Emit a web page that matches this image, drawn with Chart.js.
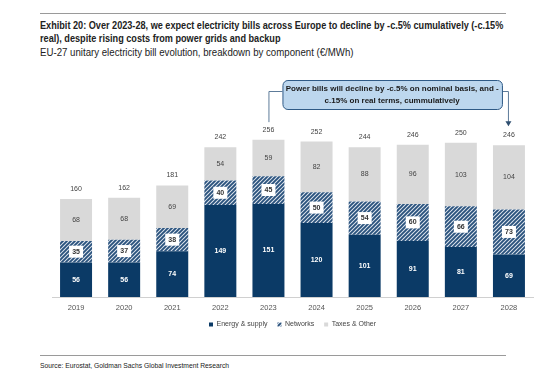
<!DOCTYPE html>
<html>
<head>
<meta charset="utf-8">
<script src="https://cdn.jsdelivr.net/npm/chart.js@4.4.0/dist/chart.umd.min.js"></script>
<style>
  body { margin: 0; background: #fff; width: 560px; height: 391px; position: relative; overflow: hidden; font-family: "Liberation Sans", sans-serif; }
  .rule { position: absolute; left: 40px; width: 466px; border-top: 1px solid #9a9a9a; }
  #title { position: absolute; left: 40px; top: 19px; width: 600px; font-weight: bold; font-size: 11px; line-height: 13px; color: #222; transform: scaleX(0.83); transform-origin: 0 0; white-space: nowrap; }
  #sub { position: absolute; left: 40px; top: 46px; font-size: 10.5px; color: #222; white-space: nowrap; transform: scaleX(0.92); transform-origin: 0 0; }
  #source { position: absolute; left: 40px; top: 361px; font-size: 7.5px; color: #222; transform: scaleX(0.9); transform-origin: 0 0; white-space: nowrap; }
  #wrap { position: absolute; left: 0; top: 0; width: 560px; height: 338px; }
</style>
</head>
<body>
<div class="rule" style="top:13px"></div>
<div id="title">Exhibit 20: Over 2023-28, we expect electricity bills across Europe to decline by -c.5% cumulatively (-c.15%<br>real), despite rising costs from power grids and backup</div>
<div id="sub">EU-27 unitary electricity bill evolution, breakdown by component (€/MWh)</div>
<div id="wrap"><canvas id="chart"></canvas></div>
<div class="rule" style="top:355px"></div>
<div id="source">Source: Eurostat, Goldman Sachs Global Investment Research</div>
<script>
var years = ['2019', '2020', '2021', '2022', '2023', '2024', '2025', '2026', '2027', '2028'];
var energy = [56, 56, 74, 149, 151, 120, 101, 91, 81, 69];
var networks = [35, 37, 38, 40, 45, 50, 54, 60, 66, 73];
var taxes = [68, 68, 69, 54, 59, 82, 88, 96, 103, 104];
var totals = [160, 162, 181, 242, 256, 252, 244, 246, 250, 246];
var noteLines = ['Power bills will decline by -c.5% on nominal basis, and -', 'c.15% on real terms, cummulatively'];

var navy = '#0b3a66';
var grey = '#d9d9d9';

// hatched fill for networks
function makeHatch() {
    var c = document.createElement('canvas');
    c.width = 4; c.height = 4;
    var g = c.getContext('2d');
    g.fillStyle = '#dfe6ee';
    g.fillRect(0, 0, 4, 4);
    g.strokeStyle = '#2a527d';
    g.lineWidth = 1.9;
    g.beginPath();
    g.moveTo(0, 4); g.lineTo(4, 0);
    g.moveTo(-1, 1); g.lineTo(1, -1);
    g.moveTo(3, 5); g.lineTo(5, 3);
    g.stroke();
    return g.createPattern(c, 'repeat');
}
var hatch = makeHatch();

var labelFont = '"Liberation Sans", sans-serif';

var labelPlugin = {
    id: 'labels',
    afterDatasetsDraw: function(chart) {
        var ctx = chart.ctx;
        ctx.save();
        ctx.textAlign = 'center';
        ctx.textBaseline = 'middle';
        chart.data.datasets.forEach(function(ds, di) {
            var meta = chart.getDatasetMeta(di);
            meta.data.forEach(function(bar, i) {
                var cy = (bar.y + bar.base) / 2;
                var txt = String(ds.data[i]);
                if (di === 0) {
                    ctx.font = 'bold 7px ' + labelFont;
                    ctx.fillStyle = '#ffffff';
                    ctx.fillText(txt, bar.x, cy);
                } else if (di === 1) {
                    ctx.fillStyle = '#ffffff';
                    ctx.fillRect(bar.x - 7, cy - 6, 14, 12);
                    ctx.font = 'bold 7px ' + labelFont;
                    ctx.fillStyle = '#333333';
                    ctx.fillText(txt, bar.x, cy);
                } else {
                    ctx.font = '7px ' + labelFont;
                    ctx.fillStyle = '#444444';
                    ctx.fillText(txt, bar.x, cy);
                    ctx.fillText(String(totals[i]), bar.x, bar.y - 10);
                }
            });
        });
        ctx.restore();
    }
};

var notePlugin = {
    id: 'note',
    afterDraw: function(chart) {
        var ctx = chart.ctx;
        var xs = chart.scales.x;
        var ys = chart.scales.y;
        var x23 = xs.getPixelForValue(4);
        var x28 = xs.getPixelForValue(9);
        var boxL = x23 + 14, boxR = x28 - 7, boxT = 80, boxB = 109;
        var midY = 91;
        ctx.save();
        // bracket
        ctx.strokeStyle = '#5d7b99';
        ctx.lineWidth = 1;
        ctx.beginPath();
        ctx.moveTo(boxL, midY + 0.5);
        ctx.lineTo(x23 + 0.5, midY + 0.5);
        ctx.lineTo(x23 + 0.5, ys.getPixelForValue(totals[4]) - 17);
        ctx.moveTo(boxR, midY + 0.5);
        ctx.lineTo(x28 - 0.5, midY + 0.5);
        ctx.lineTo(x28 - 0.5, ys.getPixelForValue(totals[9]) - 20);
        ctx.stroke();
        var ay = ys.getPixelForValue(totals[9]) - 20;
        ctx.fillStyle = '#2f4f70';
        ctx.beginPath();
        ctx.moveTo(x28 - 3.5, ay - 4);
        ctx.lineTo(x28 + 2.5, ay - 4);
        ctx.lineTo(x28 - 0.5, ay + 1);
        ctx.closePath();
        ctx.fill();
        // box
        ctx.fillStyle = '#bdd7ee';
        ctx.strokeStyle = '#2f5a86';
        ctx.beginPath();
        ctx.roundRect(boxL + 0.5, boxT + 0.5, boxR - boxL, boxB - boxT, 5);
        ctx.fill();
        ctx.stroke();
        ctx.fillStyle = '#1a1a1a';
        ctx.font = 'bold 8px ' + labelFont;
        ctx.textAlign = 'center';
        ctx.textBaseline = 'middle';
        var cx = (boxL + boxR) / 2;
        ctx.fillText(noteLines[0], cx, boxT + 9);
        ctx.fillText(noteLines[1], cx, boxT + 21);
        ctx.restore();
    }
};

new Chart(document.getElementById('chart'), {
    type: 'bar',
    data: {
        labels: years,
        datasets: [
            { label: 'Energy & supply', data: energy, backgroundColor: navy },
            { label: 'Networks', data: networks, backgroundColor: hatch },
            { label: 'Taxes & Other', data: taxes, backgroundColor: grey }
        ]
    },
    options: {
        responsive: true,
        maintainAspectRatio: false,
        animation: false,
        layout: { padding: { left: 52, right: 27, top: 112, bottom: 0 } },
        datasets: { bar: { categoryPercentage: 1, barPercentage: 0.665 } },
        scales: {
            x: {
                stacked: true,
                grid: { display: false, drawTicks: false },
                border: { color: '#d0d0d0', width: 1 },
                ticks: { color: '#555', padding: 6, font: { size: 7.5, family: labelFont } },
                afterFit: function(scale) { scale.height = 14; }
            },
            y: {
                stacked: true,
                display: false,
                min: 0,
                max: 300
            }
        },
        plugins: {
            tooltip: { enabled: false },
            legend: {
                position: 'bottom',
                align: 'center',
                labels: {
                    boxWidth: 4,
                    boxHeight: 4,
                    padding: 10,
                    color: '#444',
                    font: { size: 7, family: labelFont }
                }
            }
        }
    },
    plugins: [labelPlugin, notePlugin]
});
</script>
</body>
</html>
